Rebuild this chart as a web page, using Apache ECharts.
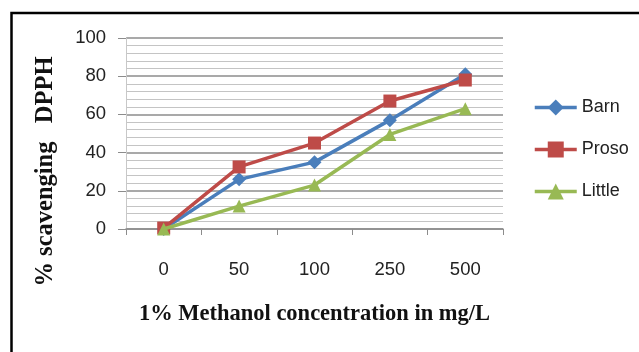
<!DOCTYPE html>
<html>
<head>
<meta charset="utf-8">
<script src="https://cdn.jsdelivr.net/npm/echarts@6/dist/echarts.min.js"></script>
<style>
html,body{margin:0;padding:0;background:#fff;}
#c{width:639px;height:352px;}
</style>
</head>
<body>
<div id="c"></div>
<script>
var categories = ['0', '50', '100', '250', '500'];
var barn = [0, 26, 35, 57, 81];
var proso = [0.5, 32.5, 45, 67, 78];
var little = [0, 12, 23, 49.5, 63];
var yTicks = [0, 20, 40, 60, 80, 100];

var sans = '"Liberation Sans", Arial, sans-serif';
var serif = '"Liberation Serif", "DejaVu Serif", serif';

var chart = echarts.init(document.getElementById('c'), null, {renderer: 'canvas'});
chart.setOption({
  backgroundColor: '#ffffff',
  animation: false,
  graphic: [
    {type: 'rect', left: 9, top: 10.5, shape: {width: 700, height: 400},
     style: {fill: 'none', stroke: '#000', lineWidth: 2.5}, z: 10},
    {type: 'text', x: 46, y: 171.5, rotation: Math.PI / 2,
     style: {text: '% scavenging   DPPH', font: 'bold 24.5px ' + serif, fill: '#111',
             align: 'center', verticalAlign: 'middle'}}
  ],
  grid: {left: 126, right: 136, top: 38, bottom: 123, containLabel: false},
  legend: {
    orient: 'vertical', left: 528, top: 92, itemWidth: 42, itemHeight: 20, itemGap: 21,
    textStyle: {fontFamily: sans, fontSize: 18, color: '#222', lineHeight: 21},
    lineStyle: {width: 3.5},
    data: ['Barn', 'Proso', 'Little']
  },
  xAxis: {
    type: 'category', data: categories, boundaryGap: true,
    name: '1% Methanol concentration in mg/L', nameLocation: 'middle', nameGap: 74,
    nameTextStyle: {fontFamily: serif, fontWeight: 'bold', fontSize: 22.5, color: '#111'},
    axisLine: {show: true, lineStyle: {color: '#8c8c8c', width: 1.5}},
    axisTick: {show: true, alignWithLabel: false, length: 6, lineStyle: {color: '#8c8c8c'}},
    axisLabel: {margin: 31, fontFamily: sans, fontSize: 18.5, color: '#222'},
    splitLine: {show: false}
  },
  yAxis: {
    type: 'value', min: yTicks[0], max: yTicks[yTicks.length - 1], interval: 20,
    axisLine: {show: true, lineStyle: {color: '#c8c8c8', width: 1}},
    axisTick: {show: true, length: 8, lineStyle: {color: '#8c8c8c'}},
    axisLabel: {margin: 20, fontFamily: sans, fontSize: 18.5, color: '#222'},
    splitLine: {show: true, lineStyle: {color: '#8c8c8c', width: 1.5}},
    minorTick: {show: false, splitNumber: 5},
    minorSplitLine: {show: true, lineStyle: {color: '#c4c4c4', width: 1.2}}
  },
  series: [
    {name: 'Barn', type: 'line', data: barn, symbol: 'diamond', symbolSize: 14,
     color: '#4a7ebb', lineStyle: {width: 3.5, color: '#4a7ebb'}, itemStyle: {color: '#4a7ebb'}, z: 3},
    {name: 'Proso', type: 'line', data: proso, symbol: 'rect', symbolSize: 13,
     color: '#be4b48', lineStyle: {width: 3.5, color: '#be4b48'}, itemStyle: {color: '#be4b48'}, z: 4},
    {name: 'Little', type: 'line', data: little, symbol: 'triangle', symbolSize: 13,
     color: '#98b954', lineStyle: {width: 3.5, color: '#98b954'}, itemStyle: {color: '#98b954'}, z: 5}
  ]
});
</script>
</body>
</html>
